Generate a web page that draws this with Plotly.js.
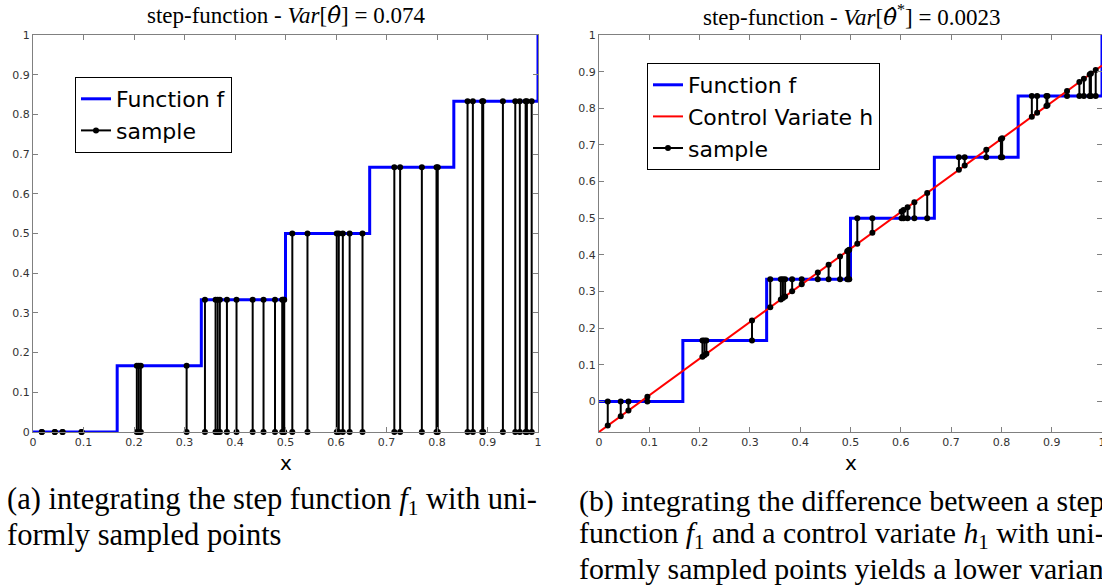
<!DOCTYPE html>
<html><head><meta charset="utf-8">
<script src="https://cdn.plot.ly/plotly-3.0.1.min.js"></script>
<style>html,body{margin:0;padding:0;overflow:hidden;background:#fff}#chart{width:1140px;height:586px}</style>
</head><body><div id="chart"></div>
<script>
// ---- data ----
const stepEdges  = [0, 0.1667, 0.3333, 0.5, 0.6667, 0.8333, 1.0];
const stepLevels = [0, 0.1667, 0.3333, 0.5, 0.6667, 0.8333, 1.0];
const ctrlX = [0, 1];
const ctrlY = [-0.0833, 0.9167];
const sampleX = [0.0174,0.0432,0.0585,0.0962,0.2056,0.2095,0.2135,0.3042,0.3405,0.3615,0.3657,0.3700,0.3840,0.4030,0.4350,0.4565,0.4792,0.4935,0.4955,0.4975,0.5135,0.5435,0.6015,0.6055,0.6135,0.6270,0.6525,0.7155,0.7270,0.7700,0.7990,0.8015,0.8605,0.8710,0.8895,0.8915,0.9305,0.9550,0.9640,0.9755,0.9780,0.9875];
const sampleF = [0,0,0,0,0.1667,0.1667,0.1667,0.1667,0.3333,0.3333,0.3333,0.3333,0.3333,0.3333,0.3333,0.3333,0.3333,0.3333,0.3333,0.3333,0.5,0.5,0.5,0.5,0.5,0.5,0.5,0.6667,0.6667,0.6667,0.6667,0.6667,0.8333,0.8333,0.8333,0.8333,0.8333,0.8333,0.8333,0.8333,0.8333,0.8333];
const sampleH = [-0.0659,-0.0401,-0.0248,0.0129,0.1223,0.1262,0.1302,0.2209,0.2572,0.2782,0.2824,0.2867,0.3007,0.3197,0.3517,0.3732,0.3959,0.4102,0.4122,0.4142,0.4302,0.4602,0.5182,0.5222,0.5302,0.5437,0.5692,0.6322,0.6437,0.6867,0.7157,0.7182,0.7772,0.7877,0.8062,0.8082,0.8472,0.8717,0.8807,0.8922,0.8947,0.9042];
const tickVals = [0,0.1,0.2,0.3,0.4,0.5,0.6,0.7,0.8,0.9,1];
const tickText = ['0','0.1','0.2','0.3','0.4','0.5','0.6','0.7','0.8','0.9','1'];
const thetaHat = '<span style="font-family:DejaVu Serif"><i>θ̂</i></span>';
const titleLeft  = 'step-function - <i>Var</i>[' + thetaHat + '] = 0.074';
const titleRight = 'step-function - <i>Var</i>[' + thetaHat + '<sup>*</sup>] = 0.0023';
const capLeft  = ['(a) integrating the step function <i>f</i><sub>1</sub> with uni-', 'formly sampled points'];
const capRight = ['(b) integrating the difference between a step', 'function <i>f</i><sub>1</sub> and a control variate <i>h</i><sub>1</sub> with uni-', 'formly sampled points yields a lower variance'];

// ---- helpers ----
const W = 1140, H = 586;
const px = x => x / W, py = y => 1 - y / H;
function stems(xs, y0, y1) {
  const X = [], Y = [];
  xs.forEach((x, i) => { X.push(x, x, null); Y.push(y0[i], y1[i], null); });
  return {X, Y};
}
const zeros = sampleX.map(() => 0);
const sL = stems(sampleX, zeros, sampleF);
const sR = stems(sampleX, sampleF, sampleH);

const traces = [
  {x: stepEdges, y: stepLevels, type:'scatter', mode:'lines', line:{shape:'hv', color:'#0000ff', width:3}, name:'Function f', xaxis:'x', yaxis:'y', legend:'legend', cliponaxis:false},
  {x: sL.X, y: sL.Y, type:'scatter', mode:'lines+markers', line:{color:'#000', width:2}, marker:{color:'#000', size:6}, name:'sample', xaxis:'x', yaxis:'y', legend:'legend', cliponaxis:false},
  {x: stepEdges, y: stepLevels, type:'scatter', mode:'lines', line:{shape:'hv', color:'#0000ff', width:3}, name:'Function f', xaxis:'x2', yaxis:'y2', legend:'legend2', cliponaxis:false},
  {x: ctrlX, y: ctrlY, type:'scatter', mode:'lines', line:{color:'#ff0000', width:2}, name:'Control Variate h', xaxis:'x2', yaxis:'y2', legend:'legend2', cliponaxis:false},
  {x: sR.X, y: sR.Y, type:'scatter', mode:'lines+markers', line:{color:'#000', width:2}, marker:{color:'#000', size:6}, name:'sample', xaxis:'x2', yaxis:'y2', legend:'legend2', cliponaxis:false}
];

const axBase = {showline:true, mirror:'ticks', linecolor:'#808080', linewidth:1, ticks:'inside', ticklen:5, tickcolor:'#808080', showgrid:false, zeroline:false, tickfont:{family:'DejaVu Sans', size:11, color:'#333'}, tickvals:tickVals, ticktext:tickText, fixedrange:true};
const yTop = py(35), yBot = py(432);

const serif = 'Liberation Serif, Times New Roman, serif';
const ann = [];
function addAnn(text, x, y, size, family, xanchor) {
  ann.push({text, x:px(x), y:py(y), xref:'paper', yref:'paper', showarrow:false, xanchor:xanchor||'center', yanchor:'middle', align:'left', font:{family, size, color:'#000'}});
}
addAnn(titleLeft, 285.5, 15, 23, serif);
addAnn(titleRight, 851, 15, 23, serif);
addAnn('x', 285.5, 463, 20, 'DejaVu Sans');
addAnn('x', 851, 463, 20, 'DejaVu Sans');
capLeft.forEach((t, i) => addAnn(t, 5, 501 + i * 33.5, 30.5, serif, 'left'));
capRight.forEach((t, i) => addAnn(t, 577, 501 + i * 33.5, 29.8, serif, 'left'));

const legBase = {xanchor:'left', yanchor:'top', bordercolor:'#000', borderwidth:1, bgcolor:'#fff', font:{family:'DejaVu Sans', size:22, color:'#000'}, tracegroupgap:0, itemwidth:30};

const layout = {
  width: W, height: H, margin:{l:0, r:0, t:0, b:0}, paper_bgcolor:'#fff', plot_bgcolor:'#fff',
  showlegend:true,
  xaxis: Object.assign({}, axBase, {domain:[px(33), px(538)], range:[0,1], anchor:'y'}),
  yaxis: Object.assign({}, axBase, {domain:[yBot, yTop], range:[0,1], anchor:'x'}),
  xaxis2: Object.assign({}, axBase, {domain:[px(599), px(1102)], range:[0,1], anchor:'y2'}),
  yaxis2: Object.assign({}, axBase, {domain:[yBot, yTop], range:[-0.0833,1], anchor:'x2'}),
  legend: Object.assign({}, legBase, {x:px(75), y:py(77)}),
  legend2: Object.assign({}, legBase, {x:px(647), y:py(63)}),
  annotations: ann
};
Plotly.newPlot('chart', traces, layout, {staticPlot:true, displayModeBar:false});
</script></body></html>
